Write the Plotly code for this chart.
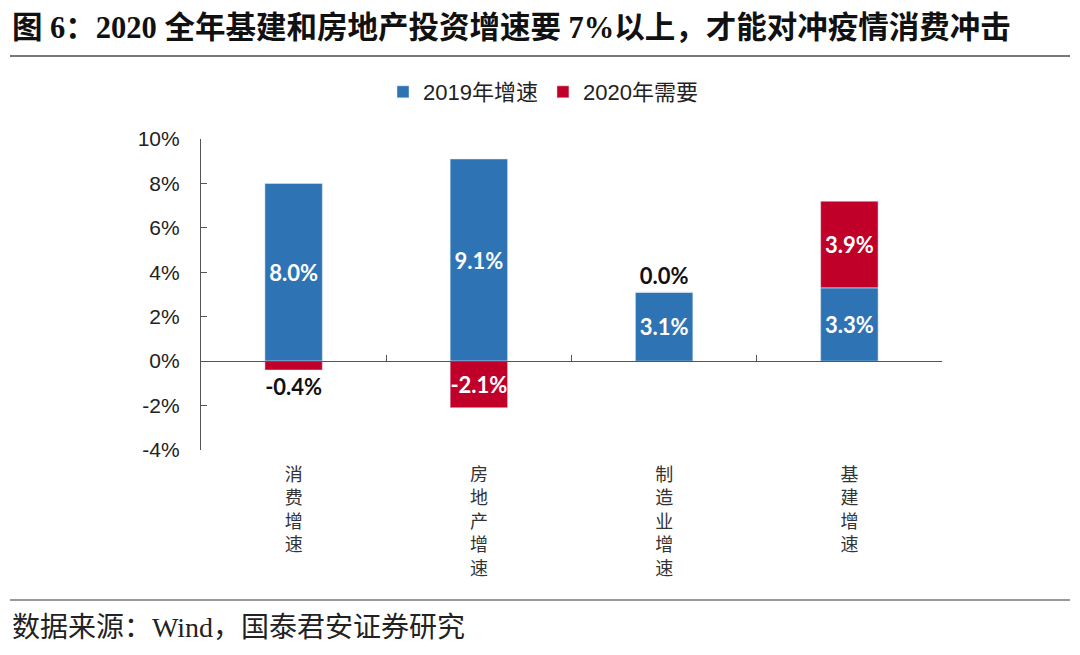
import plotly.graph_objects as go

categories = ["消费增速", "房地产增速", "制造业增速", "基建增速"]
growth_2019 = [8.0, 9.1, 3.1, 3.3]
need_2020 = [-0.4, -2.1, 0.0, 3.9]
y_ticks = [-4, -2, 0, 2, 4, 6, 8, 10]

BLUE = "#2E74B5"
RED = "#C00028"
CJK = "Noto Sans CJK SC"
SERIF = "Liberation Serif, 'Times New Roman', Noto Sans CJK SC"
BARFONT = "Lato, Open Sans, sans-serif"

vertical_labels = ["<br>".join(list(c)) for c in categories]
x = list(range(len(categories)))

# page places the figure 8px in from the window's corner (body margin)
OFF = 8
W, H = 1080 - OFF, 655 - OFF
# plot-area pixel geometry in window coordinates (used for decorations only)
L, R, T, B = 201 - OFF, 942 - OFF, 139 - OFF, 450 - OFF
PW, PH = R - L, B - T


def px(xw):
    return (xw - OFF - L) / PW


def py(yw):
    return (B - (yw - OFF)) / PH


fig = go.Figure()
fig.add_trace(go.Bar(
    x=x, y=growth_2019, name="2019年增速", marker_color=BLUE, width=0.31,
    texttemplate="%{y:.1f}%", textposition="inside", insidetextanchor="middle",
    insidetextfont=dict(family=BARFONT, size=22, color="white", weight="bold"),
    textangle=0,
))
fig.add_trace(go.Bar(
    x=x, y=need_2020, name="2020年需要", marker_color=RED, width=0.31,
    texttemplate="%{y:.1f}%",
    textposition=["outside", "inside", "outside", "inside"], insidetextanchor="middle",
    insidetextfont=dict(family=BARFONT, size=22, color="white", weight="bold"),
    outsidetextfont=dict(family=BARFONT, size=22, color="#111111", weight="bold"),
    textangle=0, cliponaxis=False,
))

fig.update_layout(
    width=W, height=H,
    barmode="relative",
    uniformtext=dict(minsize=22, mode="show"),
    paper_bgcolor="white", plot_bgcolor="white",
    margin=dict(l=L, r=W - R, t=T, b=H - B, autoexpand=False),
    showlegend=True,
    legend=dict(orientation="h", x=px(543), xanchor="center", y=py(92), yanchor="middle",
                font=dict(family="Liberation Sans, Arial, " + CJK, size=22, color="#222222"),
                traceorder="normal"),
    xaxis=dict(tickmode="array", tickvals=x, ticktext=vertical_labels,
               range=[-0.5, 3.5], showline=False, showgrid=False, zeroline=False,
               ticks="", tickfont=dict(family=CJK, size=18, color="#333333"),
               ticklabelstandoff=12),
    xaxis2=dict(overlaying="x", anchor="free", position=4 / 14, range=[-0.5, 3.5],
                tickmode="array", tickvals=[0.5, 1.5, 2.5, 3.5], ticks="inside",
                ticklen=6, tickcolor="#555555", showticklabels=False,
                showline=True, linecolor="#555555", linewidth=1.2,
                showgrid=False, zeroline=False),
    yaxis=dict(range=[-4, 10], tickmode="array", tickvals=y_ticks,
               ticktext=[f"{v}%" for v in y_ticks],
               showline=True, linecolor="#555555", linewidth=1.2,
               ticks="inside", ticklen=6, tickcolor="#555555",
               showgrid=False, zeroline=False, ticklabelstandoff=16,
               tickfont=dict(family="Liberation Sans, Arial", size=21, color="#222222")),
)

# dummy trace to activate xaxis2 (the zero baseline with category separators)
fig.add_trace(go.Scatter(x=[None], y=[None], xaxis="x2", showlegend=False, hoverinfo="skip"))

fig.add_annotation(text="<b>图 6：2020 全年基建和房地产投资增速要 7%以上，才能对冲疫情消费冲击</b>",
                   xref="paper", yref="paper", x=px(10), y=py(28),
                   xanchor="left", yanchor="middle", showarrow=False,
                   font=dict(family=SERIF, size=30.5, color="#111111"))
fig.add_annotation(text="数据来源：Wind，国泰君安证券研究",
                   xref="paper", yref="paper", x=px(10), y=py(627),
                   xanchor="left", yanchor="middle", showarrow=False,
                   font=dict(family=SERIF, size=28, color="#222222"))

fig.add_shape(type="line", xref="paper", yref="paper",
              x0=px(10), x1=px(1070), y0=py(56), y1=py(56),
              line=dict(color="#777777", width=2))
fig.add_shape(type="line", xref="paper", yref="paper",
              x0=px(10), x1=px(1070), y0=py(600), y1=py(600),
              line=dict(color="#777777", width=1.5))

fig.write_html("out.html")
